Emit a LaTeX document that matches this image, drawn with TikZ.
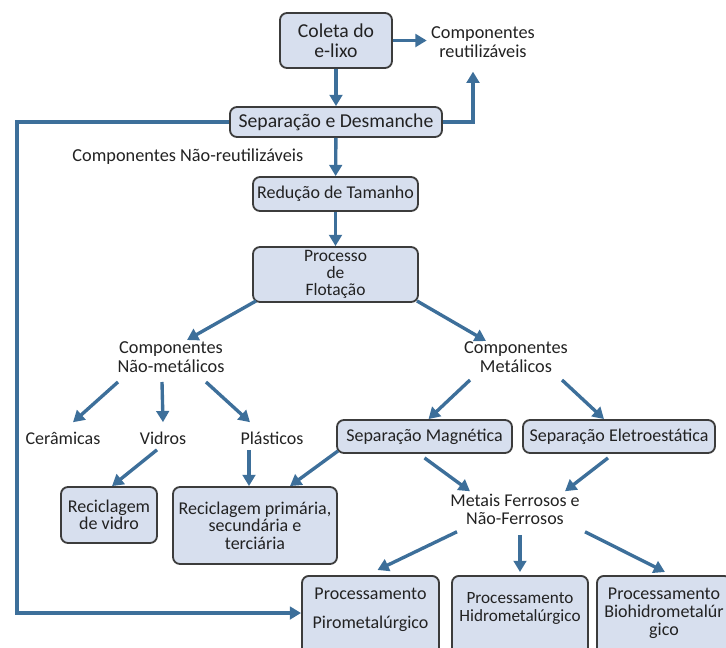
\documentclass[tikz,border=0pt]{standalone}
\usepackage{fontspec}
\setmainfont{Carlito}
\usetikzlibrary{positioning,arrows.meta,calc}
\definecolor{boxfill}{HTML}{D7DFEE}
\definecolor{boxedge}{HTML}{3C3C3C}
\definecolor{flowblue}{HTML}{3D6F9A}
\definecolor{inktext}{HTML}{222222}
\newcommand{\boxtail}{\rule[-1.2cm]{0pt}{1.2cm}}

\begin{document}
\begin{tikzpicture}[x=0.025cm,y=-0.025cm,
  every node/.style={text=inktext, font=\fontsize{12.8}{12.8}\selectfont},
  stage/.style={draw=boxedge, fill=boxfill, line width=1.3pt, rounded corners=5pt, align=center, inner sep=2pt},
  plain/.style={align=center, inner sep=3pt},
  bottombox/.style={stage, anchor=north, inner ysep=8.5pt},
  flow/.style={draw=flowblue, line width=2.4pt, -{Triangle[length=8pt,width=9pt]}}]
\useasboundingbox (0,0) rectangle (726,647);
\node[stage, minimum width=2.8cm, minimum height=1.375cm, font=\fontsize{14}{14.2}\selectfont] (coleta) at (336,40.5) {Coleta do\\e-lixo};
\node[plain, font=\fontsize{13}{13}\selectfont] (reut) at (483,42) {Componentes\\reutilizáveis};
\node[stage, minimum width=5.3cm, minimum height=0.75cm, font=\fontsize{14}{14}\selectfont] (sep) at (336,122) {Separação e Desmanche};
\node[plain, anchor=west, font=\fontsize{13}{13}\selectfont] (naoreut) at (68,157) {Componentes Não-reutilizáveis};
\node[stage, minimum width=4.125cm, minimum height=0.85cm] (reduc) at (335.5,194) {Redução de Tamanho};
\node[stage, minimum width=4.125cm, minimum height=1.375cm, font=\fontsize{12.4}{12}\selectfont] (proc) at (335.5,274.5) {Processo\\de\\Flotação};
\node[plain, font=\fontsize{13}{13.5}\selectfont] (naomet) at (171,357) {Componentes\\Não-metálicos};
\node[plain, font=\fontsize{13}{13.5}\selectfont] (met) at (516,357) {Componentes\\Metálicos};
\node[plain] (ceram) at (63,438) {Cerâmicas};
\node[plain] (vidros) at (163,438) {Vidros};
\node[plain] (plast) at (272,438) {Plásticos};
\node[stage, minimum width=4.375cm, minimum height=0.825cm] (sepmag) at (424.5,436.5) {Separação Magnética};
\node[stage, minimum width=4.8cm, minimum height=0.825cm] (sepele) at (619,436.5) {Separação Eletroestática};
\node[stage, minimum width=2.4cm, minimum height=1.4cm, font=\fontsize{12.8}{12}\selectfont] (recvid) at (109,515) {Reciclagem\\de vidro};
\node[stage, minimum width=4.1cm, minimum height=1.925cm, font=\fontsize{12.8}{12.4}\selectfont] (recpri) at (255,525.5) {Reciclagem primária,\\secundária e\\terciária};
\node[plain] (metais) at (515,509) {Metais Ferrosos e\\Não-Ferrosos};
\node[bottombox, minimum width=3.425cm] (piro) at (370.5,575) {Processamento\\[8pt]Pirometalúrgico\boxtail};
\node[bottombox, minimum width=3.4cm, inner ysep=12pt, inner xsep=1pt, font=\fontsize{12.2}{12.8}\selectfont] (hidro) at (520,575) {Processamento\\Hidrometalúrgico\boxtail};
\node[bottombox, minimum width=3.35cm] (bio) at (664,575) {Processamento\\Biohidrometalúr\\gico\boxtail};
\coordinate (loopc) at (17,613);
\draw[flow] (coleta.east) -- (coleta.east -| reut.west);
\draw[flow] (coleta) -- (sep);
\draw[flow] (sep.east) -| ([shift={(-10,10)}]reut.south);
\draw[flow] (sep.west) -| (loopc) -- (loopc -| piro.west);
\draw[flow] (sep) -- (reduc);
\draw[flow] (reduc) -- (proc);
\draw[flow] ([shift={(4,-2)}]proc.south west) -- ([shift={(16,3)}]naomet.north);
\draw[flow] ([shift={(-2,-2)}]proc.south east) -- ([shift={(-30,4)}]met.north);
\draw[flow] ([shift={(-53,5)}]naomet.south) -- ([shift={(10,-5)}]ceram.north);
\draw[flow] ([shift={(-9,5)}]naomet.south) -- ([shift={(0,-5)}]vidros.north);
\draw[flow] ([shift={(35,5)}]naomet.south) -- ([shift={(-22,-5)}]plast.north);
\draw[flow] ([shift={(-46,3)}]met.south) -- ([shift={(4,0)}]sepmag.north);
\draw[flow] ([shift={(46,3)}]met.south) -- ([shift={(-15,0)}]sepele.north);
\draw[flow] ([shift={(-6,1)}]vidros.south) -- ([shift={(3,0)}]recvid.north);
\draw[flow] ([shift={(-23,1)}]plast.south) -- ([shift={(-6,0)}]recpri.north);
\draw[flow] ([shift={(2,-3)}]sepmag.south west) -- ([shift={(35,0)}]recpri.north);
\draw[flow] ([shift={(0,4)}]sepmag.south) -- ([shift={(-45,2)}]metais.north);
\draw[flow] ([shift={(-11,4)}]sepele.south) -- ([shift={(50,2)}]metais.north);
\draw[flow] ([shift={(-58,3)}]metais.south) -- ([shift={(7,-5)}]piro.north);
\draw[flow] ([shift={(5,6)}]metais.south) -- ([shift={(0,-3)}]hidro.north);
\draw[flow] ([shift={(70,3)}]metais.south) -- ([shift={(1,-3)}]bio.north);
\end{tikzpicture}
\end{document}
